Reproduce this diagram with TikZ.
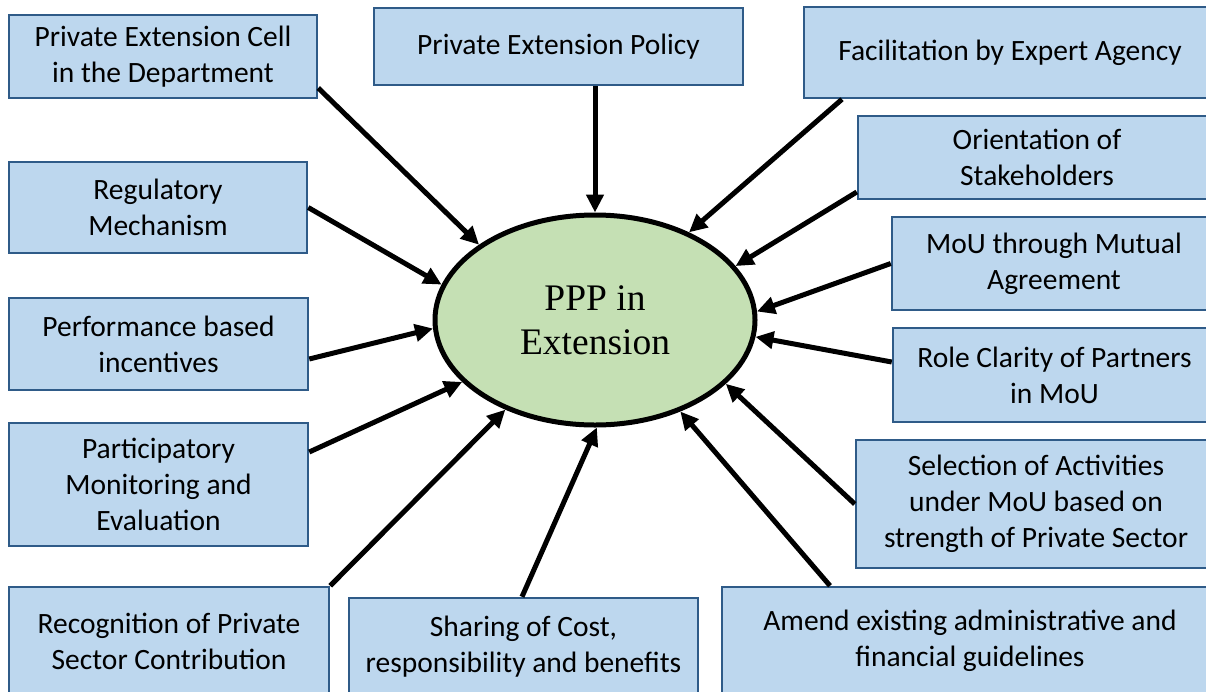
\documentclass[tikz,border=0pt]{standalone}
\usepackage{fontspec}
\setmainfont{Carlito}
\newfontfamily\tnr{Liberation Serif}
\usetikzlibrary{shapes.geometric,arrows.meta}
\definecolor{boxfill}{HTML}{BDD7EE}
\definecolor{boxline}{HTML}{2F5B88}
\definecolor{ellfill}{HTML}{C5E0B4}
\tikzset{
  box/.style={draw=boxline, fill=boxfill, line width=2.5pt, inner sep=0pt, align=center,
    font=\fontsize{29.5}{36}\selectfont},
  arr/.style={line width=5pt, -{Triangle[length=18pt,width=17pt]}}
}
\begin{document}
\begin{tikzpicture}[x=1pt,y=-1pt]
\useasboundingbox (0,0) rectangle (1206,691);
% left column
\node[box, minimum width=308pt, minimum height=83pt] (cell) at (163,56.5) {\raisebox{-3pt}{\parbox{300pt}{\centering Private Extension Cell\\in the Department}}};
\node[box, minimum width=298pt, minimum height=91pt] (reg) at (158,207.5) {Regulatory\\Mechanism};
\node[box, minimum width=299pt, minimum height=92pt] (perf) at (158.5,344) {Performance based\\incentives};
\node[box, minimum width=299pt, minimum height=123pt] (part) at (158.5,484.5) {Participatory\\Monitoring and\\Evaluation};
\node[box, minimum width=320pt, minimum height=108pt] (recog) at (169,641) {Recognition of Private\\Sector Contribution};
% top and bottom middle
\node[box, minimum width=369pt, minimum height=77pt] (policy) at (558.5,46.5) {Private Extension Policy};
\node[box, minimum width=349pt, minimum height=97pt] (share) at (523.5,646.5) {Sharing of Cost,\\responsibility and benefits};
\node[box, minimum width=496pt, minimum height=108pt] (amend) at (970,641) {Amend existing administrative and\\financial guidelines};
% right column
\node[box, minimum width=412pt, minimum height=91pt] (facil) at (1010,52.5) {Facilitation by Expert Agency};
\node[box, minimum width=358pt, minimum height=83pt] (orient) at (1037,157.5) {Orientation of\\Stakeholders};
\node[box, minimum width=324pt, minimum height=93pt] (mou) at (1054,263.5) {MoU through Mutual\\Agreement};
\node[box, minimum width=323pt, minimum height=94pt] (role) at (1054.5,375) {Role Clarity of Partners\\in MoU};
\node[box, minimum width=360pt, minimum height=128pt] (sel) at (1036,504) {Selection of Activities\\under MoU based on\\strength of Private Sector};
% centre
\node[draw=black, fill=ellfill, ellipse, line width=5pt, minimum width=320pt, minimum height=210pt,
  inner sep=0pt, align=center, font=\tnr\fontsize{37.5}{44}\selectfont] (ppp) at (595,320) {PPP in\\Extension};
% connectors
\draw[arr] ([yshift=-31.5pt]cell.east) -- (ppp.147.9);
\draw[arr] ([xshift=36.5pt]policy.south) -- (ppp.90);
\draw[arr] ([xshift=-168pt]facil.south) -- (ppp.43);
\draw[arr] ([yshift=-34.5pt]orient.west) -- (ppp.21.7);
\draw[arr] (mou.west) -- (ppp.3.5);
\draw[arr] ([yshift=13pt]role.west) -- (ppp.-6);
\draw[arr] (sel.west) -- (ppp.-26.9);
\draw[arr] ([xshift=-140pt]amend.north) -- (ppp.-47.3);
\draw[arr] ([xshift=-1.5pt]share.north) -- (ppp.-89);
\draw[arr] (recog.north east) -- (ppp.-135);
\draw[arr] ([yshift=32.5pt]part.east) -- (ppp.205.7);
\draw[arr] ([yshift=-15pt]perf.east) -- (ppp.183.5);
\draw[arr] (reg.east) -- (ppp.167.5);
\end{tikzpicture}
\end{document}
